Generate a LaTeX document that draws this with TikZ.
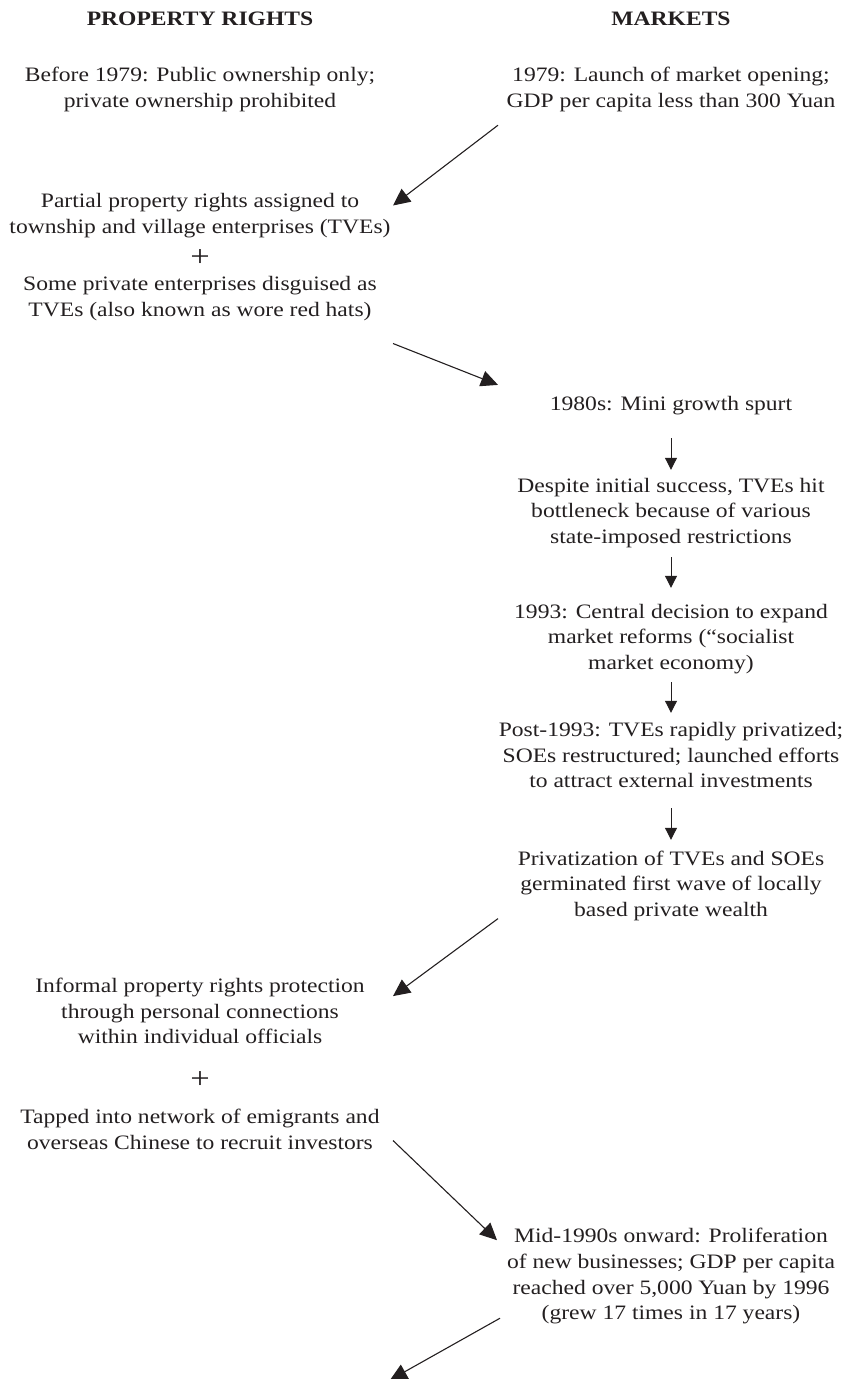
\documentclass[tikz,border=0pt]{standalone}
\usepackage{fontspec}
\setmainfont[FakeStretch=1.15]{Liberation Serif}
\usetikzlibrary{arrows.meta}
\definecolor{ink}{HTML}{231F20}
\begin{document}
\begin{tikzpicture}[x=1pt,y=-1pt,
  txt/.style={align=center,inner sep=0pt,text=ink,font=\fontsize{20.5}{25.8}\selectfont},
  head/.style={txt,font=\fontsize{20.5}{25.8}\selectfont\bfseries},
  plus/.style={inner sep=0pt,text=ink,font=\fontsize{30}{30}\selectfont},
  diag/.style={draw=ink,line width=1.1pt,-{Triangle[length=17pt,width=16pt]}},
  down/.style={draw=ink,line width=1pt,-{Triangle[length=12pt,width=12pt]}}]
\useasboundingbox (0,0) rectangle (844,1379);
\clip (0,0) rectangle (844,1379);

% column headings
\node[head] (hpr) at (200,20.7) {\strut PROPERTY RIGHTS};
\node[head] (hmk) at (671,20.7) {\strut MARKETS};

% property rights column
\node[txt] (pre79) at (200,89.5) {\strut Before 1979: Public ownership only;\\\strut private ownership prohibited};
\node[txt] (partial) at (200,215.5) {\strut Partial property rights assigned to\\\strut township and village enterprises (TVEs)};
\node[plus] (plusA) at (200,258) {+};
\node[txt] (disguised) at (200,298.5) {\strut Some private enterprises disguised as\\\strut TVEs (also known as wore red hats)};
\node[txt] (informal) at (200,1013) {\strut Informal property rights protection\\\strut through personal connections\\\strut within individual officials};
\node[plus] (plusB) at (200,1080) {+};
\node[txt] (tapped) at (200,1131.5) {\strut Tapped into network of emigrants and\\\strut overseas Chinese to recruit investors};

% markets column
\node[txt] (m1979) at (671,89.5) {\strut 1979: Launch of market opening;\\\strut GDP per capita less than 300 Yuan};
\node[txt] (m1980) at (671,405) {\strut 1980s: Mini growth spurt};
\node[txt] (despite) at (671,512.7) {\strut Despite initial success, TVEs hit\\\strut bottleneck because of various\\\strut state-imposed restrictions};
\node[txt] (m1993) at (671,638.7) {\strut 1993: Central decision to expand\\\strut market reforms (“socialist\\\strut market economy)};
\node[txt] (post) at (671,757) {\strut Post-1993: TVEs rapidly privatized;\\\strut SOEs restructured; launched efforts\\\strut to attract external investments};
\node[txt] (privat) at (671,885.7) {\strut Privatization of TVEs and SOEs\\\strut germinated first wave of locally\\\strut based private wealth};
\node[txt] (mid) at (671,1276) {\strut Mid-1990s onward: Proliferation\\\strut of new businesses; GDP per capita\\\strut reached over 5,000 Yuan by 1996\\\strut (grew 17 times in 17 years)};
\coordinate (tail) at (390,1380);

% cross-column arrows
\draw[diag] ([shift={(-173,9.7)}]m1979.south) -- ([shift={(193,16)}]partial.north);
\draw[diag] ([shift={(193,19)}]disguised.south) -- ([shift={(-173,-7)}]m1980.north);
\draw[diag] ([shift={(-173,-6)}]privat.south) -- ([shift={(193,22)}]informal.north);
\draw[diag] ([shift={(193,-17)}]tapped.south) -- ([shift={(-174,16)}]mid.north);
\draw[diag] ([shift={(-171,-9.6)}]mid.south) -- (tail);

% arrows down the markets column
\draw[down] ([shift={(0,20)}]m1980.south) -- ([shift={(0,-4)}]despite.north);
\draw[down] ([shift={(0,5.6)}]despite.south) -- ([shift={(0,-12)}]m1993.north);
\draw[down] ([shift={(0,4.6)}]m1993.south) -- ([shift={(0,-5.3)}]post.north);
\draw[down] ([shift={(0,12.3)}]post.south) -- ([shift={(0,-7)}]privat.north);
\end{tikzpicture}
\end{document}
